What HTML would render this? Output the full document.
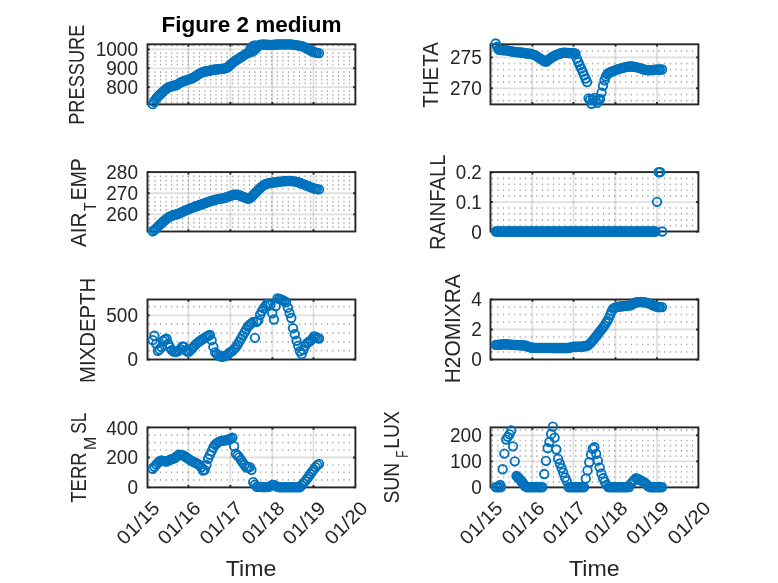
<!DOCTYPE html>
<html><head><meta charset="utf-8"><title>Figure 2 medium</title><style>
html,body{margin:0;padding:0;background:#fff;}
body{width:778px;height:583px;overflow:hidden;}
svg{display:block;will-change:transform;}
.mg{stroke:#a4a4a4;stroke-width:1.7;stroke-dasharray:1.15 4.41;}
.gr{stroke:#262626;stroke-opacity:0.14;stroke-width:1.8;}
.bx{fill:none;stroke:#262626;stroke-width:1.9;}
.tk{fill:none;stroke:#262626;stroke-width:1.9;}
.mk circle{fill:none;stroke:#0072BD;stroke-width:1.85;}
text{font-family:'Liberation Sans', Arial, sans-serif;fill:#262626;}
.tl{font-size:19.4px;text-anchor:end;}
.yl{font-size:20.4px;text-anchor:middle;}
.xl{font-size:21.6px;text-anchor:middle;}
.xt{font-size:19.4px;text-anchor:end;}
.ti{font-size:21.6px;font-weight:bold;text-anchor:middle;fill:#000;}
</style></head><body>
<svg width="778" height="583" viewBox="0 0 778 583">
<rect width="778" height="583" fill="#fff"/>
<line x1="148.8" y1="102.32" x2="355.4" y2="102.32" class="mg"/>
<line x1="148.8" y1="98.54" x2="355.4" y2="98.54" class="mg"/>
<line x1="148.8" y1="94.76" x2="355.4" y2="94.76" class="mg"/>
<line x1="148.8" y1="90.98" x2="355.4" y2="90.98" class="mg"/>
<line x1="148.8" y1="83.42" x2="355.4" y2="83.42" class="mg"/>
<line x1="148.8" y1="79.64" x2="355.4" y2="79.64" class="mg"/>
<line x1="148.8" y1="75.86" x2="355.4" y2="75.86" class="mg"/>
<line x1="148.8" y1="72.08" x2="355.4" y2="72.08" class="mg"/>
<line x1="148.8" y1="64.52" x2="355.4" y2="64.52" class="mg"/>
<line x1="148.8" y1="60.74" x2="355.4" y2="60.74" class="mg"/>
<line x1="148.8" y1="56.96" x2="355.4" y2="56.96" class="mg"/>
<line x1="148.8" y1="53.18" x2="355.4" y2="53.18" class="mg"/>
<line x1="148.8" y1="45.62" x2="355.4" y2="45.62" class="mg"/>
<line x1="147.5" y1="87.2" x2="355.4" y2="87.2" class="gr"/>
<line x1="147.5" y1="68.3" x2="355.4" y2="68.3" class="gr"/>
<line x1="147.5" y1="49.4" x2="355.4" y2="49.4" class="gr"/>
<line x1="188.4" y1="44.3" x2="188.4" y2="104.4" class="gr"/>
<line x1="230.4" y1="44.3" x2="230.4" y2="104.4" class="gr"/>
<line x1="272.4" y1="44.3" x2="272.4" y2="104.4" class="gr"/>
<line x1="313.5" y1="44.3" x2="313.5" y2="104.4" class="gr"/>
<rect x="147.5" y="44.3" width="207.9" height="60.1" class="bx"/>
<path d="M147.5 87.2h2.3M355.4 87.2h-2.3M147.5 68.3h2.3M355.4 68.3h-2.3M147.5 49.4h2.3M355.4 49.4h-2.3M188.4 104.4v-2.3M188.4 44.3v2.3M230.4 104.4v-2.3M230.4 44.3v2.3M272.4 104.4v-2.3M272.4 44.3v2.3M313.5 104.4v-2.3M313.5 44.3v2.3" class="tk"/>
<g class="mk"><circle cx="152.7" cy="104.17" r="4.25"/><circle cx="154.15" cy="101.74" r="4.25"/><circle cx="155.6" cy="99.31" r="4.25"/><circle cx="157.05" cy="97.47" r="4.25"/><circle cx="158.5" cy="96.06" r="4.25"/><circle cx="159.95" cy="94.64" r="4.25"/><circle cx="161.4" cy="93.23" r="4.25"/><circle cx="162.85" cy="91.81" r="4.25"/><circle cx="164.3" cy="90.4" r="4.25"/><circle cx="165.75" cy="89.29" r="4.25"/><circle cx="167.2" cy="88.23" r="4.25"/><circle cx="168.65" cy="87.18" r="4.25"/><circle cx="170.1" cy="86.73" r="4.25"/><circle cx="171.55" cy="86.27" r="4.25"/><circle cx="173" cy="85.83" r="4.25"/><circle cx="174.45" cy="85.47" r="4.25"/><circle cx="175.9" cy="85.12" r="4.25"/><circle cx="177.35" cy="84.54" r="4.25"/><circle cx="178.8" cy="83.58" r="4.25"/><circle cx="180.25" cy="82.63" r="4.25"/><circle cx="181.7" cy="81.91" r="4.25"/><circle cx="183.15" cy="81.38" r="4.25"/><circle cx="184.6" cy="80.85" r="4.25"/><circle cx="186.05" cy="80.35" r="4.25"/><circle cx="187.5" cy="79.87" r="4.25"/><circle cx="188.95" cy="79.38" r="4.25"/><circle cx="190.4" cy="78.83" r="4.25"/><circle cx="191.85" cy="78.27" r="4.25"/><circle cx="193.3" cy="77.7" r="4.25"/><circle cx="194.75" cy="76.75" r="4.25"/><circle cx="196.2" cy="75.79" r="4.25"/><circle cx="197.65" cy="74.85" r="4.25"/><circle cx="199.1" cy="73.96" r="4.25"/><circle cx="200.55" cy="73.08" r="4.25"/><circle cx="202" cy="72.36" r="4.25"/><circle cx="203.45" cy="71.94" r="4.25"/><circle cx="204.9" cy="71.53" r="4.25"/><circle cx="206.35" cy="71.27" r="4.25"/><circle cx="207.8" cy="71.02" r="4.25"/><circle cx="209.25" cy="70.76" r="4.25"/><circle cx="210.7" cy="70.37" r="4.25"/><circle cx="212.15" cy="69.98" r="4.25"/><circle cx="213.6" cy="69.66" r="4.25"/><circle cx="215.05" cy="69.52" r="4.25"/><circle cx="216.5" cy="69.38" r="4.25"/><circle cx="217.95" cy="69.24" r="4.25"/><circle cx="219.4" cy="69.1" r="4.25"/><circle cx="220.85" cy="68.96" r="4.25"/><circle cx="222.3" cy="68.78" r="4.25"/><circle cx="223.75" cy="68.57" r="4.25"/><circle cx="225.2" cy="68.36" r="4.25"/><circle cx="226.65" cy="67.93" r="4.25"/><circle cx="228.1" cy="67.06" r="4.25"/><circle cx="229.55" cy="65.47" r="4.25"/><circle cx="231" cy="64.22" r="4.25"/><circle cx="232.45" cy="63.02" r="4.25"/><circle cx="233.9" cy="61.83" r="4.25"/><circle cx="235.35" cy="60.81" r="4.25"/><circle cx="236.8" cy="59.78" r="4.25"/><circle cx="238.25" cy="58.8" r="4.25"/><circle cx="239.7" cy="57.95" r="4.25"/><circle cx="241.15" cy="57.1" r="4.25"/><circle cx="242.6" cy="56.19" r="4.25"/><circle cx="244.05" cy="55.19" r="4.25"/><circle cx="245.5" cy="54.19" r="4.25"/><circle cx="246.95" cy="53.41" r="4.25"/><circle cx="248.4" cy="52.84" r="4.25"/><circle cx="249.85" cy="52.29" r="4.25"/><circle cx="251.3" cy="51.75" r="4.25"/><circle cx="252.75" cy="51.18" r="4.25"/><circle cx="254.2" cy="50.45" r="4.25"/><circle cx="255.65" cy="48.93" r="4.25"/><circle cx="257.1" cy="47.21" r="4.25"/><circle cx="258.55" cy="45.48" r="4.25"/><circle cx="260" cy="45.03" r="4.25"/><circle cx="261.45" cy="44.74" r="4.25"/><circle cx="262.9" cy="44.51" r="4.25"/><circle cx="264.35" cy="44.55" r="4.25"/><circle cx="265.8" cy="44.59" r="4.25"/><circle cx="267.25" cy="44.71" r="4.25"/><circle cx="268.7" cy="44.85" r="4.25"/><circle cx="270.15" cy="44.99" r="4.25"/><circle cx="271.88" cy="44.84" r="4.25"/><circle cx="273.61" cy="44.67" r="4.25"/><circle cx="275.34" cy="44.55" r="4.25"/><circle cx="277.07" cy="44.47" r="4.25"/><circle cx="278.8" cy="44.39" r="4.25"/><circle cx="280.53" cy="44.35" r="4.25"/><circle cx="282.26" cy="44.31" r="4.25"/><circle cx="283.99" cy="44.3" r="4.25"/><circle cx="285.72" cy="44.3" r="4.25"/><circle cx="287.45" cy="44.3" r="4.25"/><circle cx="289.18" cy="44.3" r="4.25"/><circle cx="290.91" cy="44.32" r="4.25"/><circle cx="292.64" cy="44.57" r="4.25"/><circle cx="294.37" cy="44.82" r="4.25"/><circle cx="296.1" cy="45.1" r="4.25"/><circle cx="297.83" cy="45.4" r="4.25"/><circle cx="299.56" cy="45.72" r="4.25"/><circle cx="301.29" cy="46.09" r="4.25"/><circle cx="303.02" cy="46.46" r="4.25"/><circle cx="304.75" cy="47.33" r="4.25"/><circle cx="306.48" cy="48.26" r="4.25"/><circle cx="308.21" cy="49.21" r="4.25"/><circle cx="309.94" cy="50.18" r="4.25"/><circle cx="311.67" cy="51.1" r="4.25"/><circle cx="313.4" cy="51.78" r="4.25"/><circle cx="315.13" cy="52.45" r="4.25"/><circle cx="316.86" cy="52.8" r="4.25"/><circle cx="319.02" cy="53.11" r="4.25"/><circle cx="250.4" cy="48.6" r="4.25"/><circle cx="251.9" cy="46.8" r="4.25"/><circle cx="253.4" cy="45.8" r="4.25"/><circle cx="255" cy="45.3" r="4.25"/></g>
<text x="138" y="94.1" class="tl" textLength="31.74" lengthAdjust="spacingAndGlyphs">800</text>
<text x="138" y="75.2" class="tl" textLength="31.74" lengthAdjust="spacingAndGlyphs">900</text>
<text x="138" y="56.3" class="tl" textLength="42.32" lengthAdjust="spacingAndGlyphs">1000</text>
<line x1="148.8" y1="227.09" x2="355.4" y2="227.09" class="mg"/>
<line x1="148.8" y1="222.86" x2="355.4" y2="222.86" class="mg"/>
<line x1="148.8" y1="218.63" x2="355.4" y2="218.63" class="mg"/>
<line x1="148.8" y1="210.17" x2="355.4" y2="210.17" class="mg"/>
<line x1="148.8" y1="205.94" x2="355.4" y2="205.94" class="mg"/>
<line x1="148.8" y1="201.71" x2="355.4" y2="201.71" class="mg"/>
<line x1="148.8" y1="197.48" x2="355.4" y2="197.48" class="mg"/>
<line x1="148.8" y1="189.02" x2="355.4" y2="189.02" class="mg"/>
<line x1="148.8" y1="184.79" x2="355.4" y2="184.79" class="mg"/>
<line x1="148.8" y1="180.56" x2="355.4" y2="180.56" class="mg"/>
<line x1="148.8" y1="176.33" x2="355.4" y2="176.33" class="mg"/>
<line x1="147.5" y1="214.4" x2="355.4" y2="214.4" class="gr"/>
<line x1="147.5" y1="193.25" x2="355.4" y2="193.25" class="gr"/>
<line x1="188.4" y1="172.1" x2="188.4" y2="231.5" class="gr"/>
<line x1="230.4" y1="172.1" x2="230.4" y2="231.5" class="gr"/>
<line x1="272.4" y1="172.1" x2="272.4" y2="231.5" class="gr"/>
<line x1="313.5" y1="172.1" x2="313.5" y2="231.5" class="gr"/>
<rect x="147.5" y="172.1" width="207.9" height="59.4" class="bx"/>
<path d="M147.5 214.4h2.3M355.4 214.4h-2.3M147.5 193.25h2.3M355.4 193.25h-2.3M147.5 172.1h2.3M355.4 172.1h-2.3M188.4 231.5v-2.3M188.4 172.1v2.3M230.4 231.5v-2.3M230.4 172.1v2.3M272.4 231.5v-2.3M272.4 172.1v2.3M313.5 231.5v-2.3M313.5 172.1v2.3" class="tk"/>
<g class="mk"><circle cx="152.7" cy="231.43" r="4.25"/><circle cx="154.15" cy="230.18" r="4.25"/><circle cx="155.6" cy="228.92" r="4.25"/><circle cx="157.05" cy="227.55" r="4.25"/><circle cx="158.5" cy="226.1" r="4.25"/><circle cx="159.95" cy="224.65" r="4.25"/><circle cx="161.4" cy="223.31" r="4.25"/><circle cx="162.85" cy="222" r="4.25"/><circle cx="164.3" cy="220.68" r="4.25"/><circle cx="165.75" cy="219.5" r="4.25"/><circle cx="167.2" cy="218.33" r="4.25"/><circle cx="168.65" cy="217.18" r="4.25"/><circle cx="170.1" cy="216.51" r="4.25"/><circle cx="171.55" cy="215.83" r="4.25"/><circle cx="173" cy="215.23" r="4.25"/><circle cx="174.45" cy="214.87" r="4.25"/><circle cx="175.9" cy="214.52" r="4.25"/><circle cx="177.35" cy="214.07" r="4.25"/><circle cx="178.8" cy="213.47" r="4.25"/><circle cx="180.25" cy="212.87" r="4.25"/><circle cx="181.7" cy="212.21" r="4.25"/><circle cx="183.15" cy="211.5" r="4.25"/><circle cx="184.6" cy="210.8" r="4.25"/><circle cx="186.05" cy="210.18" r="4.25"/><circle cx="187.5" cy="209.59" r="4.25"/><circle cx="188.95" cy="209" r="4.25"/><circle cx="190.4" cy="208.43" r="4.25"/><circle cx="191.85" cy="207.87" r="4.25"/><circle cx="193.3" cy="207.3" r="4.25"/><circle cx="194.75" cy="206.77" r="4.25"/><circle cx="196.2" cy="206.24" r="4.25"/><circle cx="197.65" cy="205.72" r="4.25"/><circle cx="199.1" cy="205.22" r="4.25"/><circle cx="200.55" cy="204.73" r="4.25"/><circle cx="202" cy="204.22" r="4.25"/><circle cx="203.45" cy="203.68" r="4.25"/><circle cx="204.9" cy="203.14" r="4.25"/><circle cx="206.35" cy="202.61" r="4.25"/><circle cx="207.8" cy="202.08" r="4.25"/><circle cx="209.25" cy="201.56" r="4.25"/><circle cx="210.7" cy="201.13" r="4.25"/><circle cx="212.15" cy="200.71" r="4.25"/><circle cx="213.6" cy="200.28" r="4.25"/><circle cx="215.05" cy="199.86" r="4.25"/><circle cx="216.5" cy="199.43" r="4.25"/><circle cx="217.95" cy="199.09" r="4.25"/><circle cx="219.4" cy="198.85" r="4.25"/><circle cx="220.85" cy="198.61" r="4.25"/><circle cx="222.3" cy="198.34" r="4.25"/><circle cx="223.75" cy="198.06" r="4.25"/><circle cx="225.2" cy="197.78" r="4.25"/><circle cx="226.65" cy="197.27" r="4.25"/><circle cx="228.1" cy="196.66" r="4.25"/><circle cx="229.55" cy="196.06" r="4.25"/><circle cx="231" cy="195.56" r="4.25"/><circle cx="232.45" cy="195.06" r="4.25"/><circle cx="233.9" cy="194.6" r="4.25"/><circle cx="235.35" cy="194.64" r="4.25"/><circle cx="236.8" cy="194.67" r="4.25"/><circle cx="238.25" cy="194.84" r="4.25"/><circle cx="239.7" cy="195.4" r="4.25"/><circle cx="241.15" cy="195.97" r="4.25"/><circle cx="242.6" cy="196.56" r="4.25"/><circle cx="244.05" cy="197.18" r="4.25"/><circle cx="245.5" cy="197.8" r="4.25"/><circle cx="246.95" cy="198.35" r="4.25"/><circle cx="248.4" cy="198.83" r="4.25"/><circle cx="249.85" cy="198.1" r="4.25"/><circle cx="251.3" cy="197.09" r="4.25"/><circle cx="252.75" cy="195.55" r="4.25"/><circle cx="254.2" cy="194.01" r="4.25"/><circle cx="255.65" cy="192.55" r="4.25"/><circle cx="257.1" cy="191.1" r="4.25"/><circle cx="258.55" cy="189.65" r="4.25"/><circle cx="260" cy="188.28" r="4.25"/><circle cx="261.45" cy="186.91" r="4.25"/><circle cx="262.9" cy="185.74" r="4.25"/><circle cx="264.35" cy="184.86" r="4.25"/><circle cx="265.8" cy="183.98" r="4.25"/><circle cx="267.25" cy="183.55" r="4.25"/><circle cx="268.7" cy="183.23" r="4.25"/><circle cx="270.15" cy="182.91" r="4.25"/><circle cx="271.88" cy="182.7" r="4.25"/><circle cx="273.61" cy="182.48" r="4.25"/><circle cx="275.34" cy="182.25" r="4.25"/><circle cx="277.07" cy="182" r="4.25"/><circle cx="278.8" cy="181.76" r="4.25"/><circle cx="280.53" cy="181.55" r="4.25"/><circle cx="282.26" cy="181.34" r="4.25"/><circle cx="283.99" cy="181.2" r="4.25"/><circle cx="285.72" cy="181.07" r="4.25"/><circle cx="287.45" cy="181" r="4.25"/><circle cx="289.18" cy="181" r="4.25"/><circle cx="290.91" cy="181.01" r="4.25"/><circle cx="292.64" cy="181.18" r="4.25"/><circle cx="294.37" cy="181.35" r="4.25"/><circle cx="296.1" cy="181.72" r="4.25"/><circle cx="297.83" cy="182.19" r="4.25"/><circle cx="299.56" cy="182.73" r="4.25"/><circle cx="301.29" cy="183.43" r="4.25"/><circle cx="303.02" cy="184.13" r="4.25"/><circle cx="304.75" cy="184.8" r="4.25"/><circle cx="306.48" cy="185.48" r="4.25"/><circle cx="308.21" cy="186.18" r="4.25"/><circle cx="309.94" cy="186.89" r="4.25"/><circle cx="311.67" cy="187.59" r="4.25"/><circle cx="313.4" cy="188.18" r="4.25"/><circle cx="315.13" cy="188.77" r="4.25"/><circle cx="316.86" cy="189.1" r="4.25"/><circle cx="319.02" cy="189.41" r="4.25"/></g>
<text x="138" y="221.3" class="tl" textLength="31.74" lengthAdjust="spacingAndGlyphs">260</text>
<text x="138" y="200.15" class="tl" textLength="31.74" lengthAdjust="spacingAndGlyphs">270</text>
<text x="138" y="179" class="tl" textLength="31.74" lengthAdjust="spacingAndGlyphs">280</text>
<line x1="148.8" y1="350.68" x2="355.4" y2="350.68" class="mg"/>
<line x1="148.8" y1="341.86" x2="355.4" y2="341.86" class="mg"/>
<line x1="148.8" y1="333.04" x2="355.4" y2="333.04" class="mg"/>
<line x1="148.8" y1="324.22" x2="355.4" y2="324.22" class="mg"/>
<line x1="148.8" y1="306.58" x2="355.4" y2="306.58" class="mg"/>
<line x1="147.5" y1="315.4" x2="355.4" y2="315.4" class="gr"/>
<line x1="188.4" y1="299.5" x2="188.4" y2="359.5" class="gr"/>
<line x1="230.4" y1="299.5" x2="230.4" y2="359.5" class="gr"/>
<line x1="272.4" y1="299.5" x2="272.4" y2="359.5" class="gr"/>
<line x1="313.5" y1="299.5" x2="313.5" y2="359.5" class="gr"/>
<rect x="147.5" y="299.5" width="207.9" height="60" class="bx"/>
<path d="M147.5 359.5h2.3M355.4 359.5h-2.3M147.5 315.4h2.3M355.4 315.4h-2.3M188.4 359.5v-2.3M188.4 299.5v2.3M230.4 359.5v-2.3M230.4 299.5v2.3M272.4 359.5v-2.3M272.4 299.5v2.3M313.5 359.5v-2.3M313.5 299.5v2.3" class="tk"/>
<g class="mk"><circle cx="152.7" cy="340.14" r="4.25"/><circle cx="154.43" cy="335.76" r="4.25"/><circle cx="156.16" cy="343.87" r="4.25"/><circle cx="157.9" cy="350.72" r="4.25"/><circle cx="159.63" cy="349.46" r="4.25"/><circle cx="161.36" cy="347.06" r="4.25"/><circle cx="163.09" cy="341.03" r="4.25"/><circle cx="164.82" cy="339.49" r="4.25"/><circle cx="166.56" cy="338.72" r="4.25"/><circle cx="168.29" cy="343.77" r="4.25"/><circle cx="170.02" cy="347.44" r="4.25"/><circle cx="171.75" cy="350.14" r="4.25"/><circle cx="173.49" cy="351.69" r="4.25"/><circle cx="175.22" cy="351.7" r="4.25"/><circle cx="176.95" cy="351.7" r="4.25"/><circle cx="178.69" cy="350.58" r="4.25"/><circle cx="180.42" cy="349.07" r="4.25"/><circle cx="182.15" cy="346.68" r="4.25"/><circle cx="183.88" cy="346.78" r="4.25"/><circle cx="185.62" cy="350.46" r="4.25"/><circle cx="187.35" cy="351.71" r="4.25"/><circle cx="189.08" cy="351.62" r="4.25"/><circle cx="190.81" cy="349.89" r="4.25"/><circle cx="192.55" cy="348.03" r="4.25"/><circle cx="194.28" cy="345.96" r="4.25"/><circle cx="196.01" cy="344.09" r="4.25"/><circle cx="197.74" cy="342.69" r="4.25"/><circle cx="199.47" cy="341.35" r="4.25"/><circle cx="201.21" cy="340.17" r="4.25"/><circle cx="202.94" cy="339.01" r="4.25"/><circle cx="204.67" cy="337.87" r="4.25"/><circle cx="206.41" cy="336.77" r="4.25"/><circle cx="208.14" cy="335.76" r="4.25"/><circle cx="209.87" cy="335.01" r="4.25"/><circle cx="211.6" cy="340.21" r="4.25"/><circle cx="213.33" cy="346.81" r="4.25"/><circle cx="215.07" cy="352.3" r="4.25"/><circle cx="216.8" cy="354.04" r="4.25"/><circle cx="218.53" cy="355.48" r="4.25"/><circle cx="220.26" cy="356.2" r="4.25"/><circle cx="222" cy="356.74" r="4.25"/><circle cx="223.73" cy="356.42" r="4.25"/><circle cx="225.46" cy="356.1" r="4.25"/><circle cx="227.19" cy="354.85" r="4.25"/><circle cx="228.93" cy="353.18" r="4.25"/><circle cx="230.66" cy="352.01" r="4.25"/><circle cx="232.39" cy="350.84" r="4.25"/><circle cx="234.12" cy="349.2" r="4.25"/><circle cx="235.86" cy="347.13" r="4.25"/><circle cx="237.59" cy="344.61" r="4.25"/><circle cx="239.32" cy="341.56" r="4.25"/><circle cx="241.06" cy="338.56" r="4.25"/><circle cx="242.79" cy="335.57" r="4.25"/><circle cx="244.52" cy="332.52" r="4.25"/><circle cx="246.25" cy="329.5" r="4.25"/><circle cx="247.99" cy="326.52" r="4.25"/><circle cx="249.72" cy="324.76" r="4.25"/><circle cx="251.45" cy="323.39" r="4.25"/><circle cx="253.18" cy="322.01" r="4.25"/><circle cx="254.91" cy="337.86" r="4.25"/><circle cx="256.65" cy="321.96" r="4.25"/><circle cx="258.38" cy="320.32" r="4.25"/><circle cx="260.11" cy="314.77" r="4.25"/><circle cx="261.85" cy="311.21" r="4.25"/><circle cx="263.58" cy="308.44" r="4.25"/><circle cx="265.31" cy="306.11" r="4.25"/><circle cx="267.04" cy="303.98" r="4.25"/><circle cx="268.77" cy="303.99" r="4.25"/><circle cx="270.51" cy="305.04" r="4.25"/><circle cx="272.24" cy="313.34" r="4.25"/><circle cx="273.97" cy="319.5" r="4.25"/><circle cx="275.7" cy="305.98" r="4.25"/><circle cx="277.44" cy="298.41" r="4.25"/><circle cx="279.17" cy="298.96" r="4.25"/><circle cx="280.9" cy="299.51" r="4.25"/><circle cx="282.63" cy="300.22" r="4.25"/><circle cx="284.37" cy="301.08" r="4.25"/><circle cx="286.1" cy="302.22" r="4.25"/><circle cx="287.83" cy="307.7" r="4.25"/><circle cx="289.56" cy="313.09" r="4.25"/><circle cx="291.3" cy="317.99" r="4.25"/><circle cx="293.03" cy="328.2" r="4.25"/><circle cx="294.76" cy="334.27" r="4.25"/><circle cx="296.5" cy="340.78" r="4.25"/><circle cx="298.23" cy="345.79" r="4.25"/><circle cx="299.96" cy="351.27" r="4.25"/><circle cx="301.69" cy="354.19" r="4.25"/><circle cx="303.42" cy="349.94" r="4.25"/><circle cx="305.16" cy="346.09" r="4.25"/><circle cx="306.89" cy="343.38" r="4.25"/><circle cx="308.62" cy="341.97" r="4.25"/><circle cx="310.36" cy="340.85" r="4.25"/><circle cx="312.09" cy="339.2" r="4.25"/><circle cx="313.82" cy="336.54" r="4.25"/><circle cx="315.55" cy="336.78" r="4.25"/><circle cx="317.28" cy="338.05" r="4.25"/><circle cx="319.02" cy="338.48" r="4.25"/></g>
<text x="138" y="366.4" class="tl" textLength="10.58" lengthAdjust="spacingAndGlyphs">0</text>
<text x="138" y="322.3" class="tl" textLength="31.74" lengthAdjust="spacingAndGlyphs">500</text>
<line x1="148.8" y1="479.92" x2="355.4" y2="479.92" class="mg"/>
<line x1="148.8" y1="472.45" x2="355.4" y2="472.45" class="mg"/>
<line x1="148.8" y1="464.98" x2="355.4" y2="464.98" class="mg"/>
<line x1="148.8" y1="450.02" x2="355.4" y2="450.02" class="mg"/>
<line x1="148.8" y1="442.55" x2="355.4" y2="442.55" class="mg"/>
<line x1="148.8" y1="435.08" x2="355.4" y2="435.08" class="mg"/>
<line x1="147.5" y1="457.5" x2="355.4" y2="457.5" class="gr"/>
<line x1="188.4" y1="427.4" x2="188.4" y2="487.4" class="gr"/>
<line x1="230.4" y1="427.4" x2="230.4" y2="487.4" class="gr"/>
<line x1="272.4" y1="427.4" x2="272.4" y2="487.4" class="gr"/>
<line x1="313.5" y1="427.4" x2="313.5" y2="487.4" class="gr"/>
<rect x="147.5" y="427.4" width="207.9" height="60" class="bx"/>
<path d="M147.5 487.4h2.3M355.4 487.4h-2.3M147.5 457.5h2.3M355.4 457.5h-2.3M147.5 427.6h2.3M355.4 427.6h-2.3M188.4 487.4v-2.3M188.4 427.4v2.3M230.4 487.4v-2.3M230.4 427.4v2.3M272.4 487.4v-2.3M272.4 427.4v2.3M313.5 487.4v-2.3M313.5 427.4v2.3" class="tk"/>
<g class="mk"><circle cx="152.7" cy="468.79" r="4.25"/><circle cx="154.43" cy="466.73" r="4.25"/><circle cx="156.16" cy="464.66" r="4.25"/><circle cx="157.9" cy="462.94" r="4.25"/><circle cx="159.63" cy="461.25" r="4.25"/><circle cx="161.36" cy="460.49" r="4.25"/><circle cx="163.09" cy="460.92" r="4.25"/><circle cx="164.82" cy="461.36" r="4.25"/><circle cx="166.56" cy="461.52" r="4.25"/><circle cx="168.29" cy="460.66" r="4.25"/><circle cx="170.02" cy="459.79" r="4.25"/><circle cx="171.75" cy="459.16" r="4.25"/><circle cx="173.49" cy="458.59" r="4.25"/><circle cx="175.22" cy="457.75" r="4.25"/><circle cx="176.95" cy="456.27" r="4.25"/><circle cx="178.69" cy="454.78" r="4.25"/><circle cx="180.42" cy="454.85" r="4.25"/><circle cx="182.15" cy="455.13" r="4.25"/><circle cx="183.88" cy="455.77" r="4.25"/><circle cx="185.62" cy="456.97" r="4.25"/><circle cx="187.35" cy="458.16" r="4.25"/><circle cx="189.08" cy="459.29" r="4.25"/><circle cx="190.81" cy="460.42" r="4.25"/><circle cx="192.55" cy="461.42" r="4.25"/><circle cx="194.28" cy="462.29" r="4.25"/><circle cx="196.01" cy="463.16" r="4.25"/><circle cx="197.74" cy="464.02" r="4.25"/><circle cx="199.47" cy="464.89" r="4.25"/><circle cx="201.21" cy="467.28" r="4.25"/><circle cx="202.94" cy="470.55" r="4.25"/><circle cx="204.67" cy="469.82" r="4.25"/><circle cx="206.41" cy="465.03" r="4.25"/><circle cx="208.14" cy="458.77" r="4.25"/><circle cx="209.87" cy="454.86" r="4.25"/><circle cx="211.6" cy="451.35" r="4.25"/><circle cx="213.33" cy="447.49" r="4.25"/><circle cx="215.07" cy="444.87" r="4.25"/><circle cx="216.8" cy="443.27" r="4.25"/><circle cx="218.53" cy="442.11" r="4.25"/><circle cx="220.26" cy="441.14" r="4.25"/><circle cx="222" cy="440.86" r="4.25"/><circle cx="223.73" cy="440.58" r="4.25"/><circle cx="225.46" cy="440.29" r="4.25"/><circle cx="227.19" cy="440" r="4.25"/><circle cx="228.93" cy="439.52" r="4.25"/><circle cx="230.66" cy="438.61" r="4.25"/><circle cx="232.39" cy="437.7" r="4.25"/><circle cx="234.12" cy="446.31" r="4.25"/><circle cx="235.86" cy="453.72" r="4.25"/><circle cx="237.59" cy="455.48" r="4.25"/><circle cx="239.32" cy="457.3" r="4.25"/><circle cx="241.06" cy="460" r="4.25"/><circle cx="242.79" cy="462.65" r="4.25"/><circle cx="244.52" cy="465.01" r="4.25"/><circle cx="246.25" cy="467.36" r="4.25"/><circle cx="247.99" cy="467.7" r="4.25"/><circle cx="249.72" cy="467.13" r="4.25"/><circle cx="251.45" cy="469.87" r="4.25"/><circle cx="253.18" cy="482.08" r="4.25"/><circle cx="254.91" cy="484.74" r="4.25"/><circle cx="256.65" cy="486.81" r="4.25"/><circle cx="258.38" cy="486.87" r="4.25"/><circle cx="260.11" cy="486.93" r="4.25"/><circle cx="261.85" cy="486.99" r="4.25"/><circle cx="263.58" cy="487.05" r="4.25"/><circle cx="265.31" cy="487.11" r="4.25"/><circle cx="267.04" cy="487.17" r="4.25"/><circle cx="268.77" cy="486.81" r="4.25"/><circle cx="270.51" cy="485.92" r="4.25"/><circle cx="272.24" cy="485.04" r="4.25"/><circle cx="273.97" cy="484.89" r="4.25"/><circle cx="275.7" cy="485.88" r="4.25"/><circle cx="277.44" cy="486.88" r="4.25"/><circle cx="279.17" cy="487.2" r="4.25"/><circle cx="280.9" cy="487.2" r="4.25"/><circle cx="282.63" cy="487.2" r="4.25"/><circle cx="284.37" cy="487.2" r="4.25"/><circle cx="286.1" cy="487.2" r="4.25"/><circle cx="287.83" cy="487.2" r="4.25"/><circle cx="289.56" cy="487.2" r="4.25"/><circle cx="291.3" cy="487.2" r="4.25"/><circle cx="293.03" cy="487.2" r="4.25"/><circle cx="294.76" cy="487.2" r="4.25"/><circle cx="296.5" cy="487.2" r="4.25"/><circle cx="298.23" cy="487.2" r="4.25"/><circle cx="299.96" cy="487.2" r="4.25"/><circle cx="301.69" cy="485.28" r="4.25"/><circle cx="303.42" cy="483.31" r="4.25"/><circle cx="305.16" cy="481.19" r="4.25"/><circle cx="306.89" cy="478.88" r="4.25"/><circle cx="308.62" cy="476.57" r="4.25"/><circle cx="310.36" cy="474" r="4.25"/><circle cx="312.09" cy="471.57" r="4.25"/><circle cx="313.82" cy="469.4" r="4.25"/><circle cx="315.55" cy="467.19" r="4.25"/><circle cx="317.28" cy="465.08" r="4.25"/><circle cx="319.02" cy="463.92" r="4.25"/></g>
<text x="138" y="494.3" class="tl" textLength="10.58" lengthAdjust="spacingAndGlyphs">0</text>
<text x="138" y="464.4" class="tl" textLength="31.74" lengthAdjust="spacingAndGlyphs">200</text>
<text x="138" y="434.5" class="tl" textLength="31.74" lengthAdjust="spacingAndGlyphs">400</text>
<line x1="491.8" y1="100.66" x2="698.4" y2="100.66" class="mg"/>
<line x1="491.8" y1="94.48" x2="698.4" y2="94.48" class="mg"/>
<line x1="491.8" y1="82.12" x2="698.4" y2="82.12" class="mg"/>
<line x1="491.8" y1="75.94" x2="698.4" y2="75.94" class="mg"/>
<line x1="491.8" y1="69.76" x2="698.4" y2="69.76" class="mg"/>
<line x1="491.8" y1="63.58" x2="698.4" y2="63.58" class="mg"/>
<line x1="491.8" y1="51.22" x2="698.4" y2="51.22" class="mg"/>
<line x1="490.5" y1="88.3" x2="698.4" y2="88.3" class="gr"/>
<line x1="490.5" y1="57.4" x2="698.4" y2="57.4" class="gr"/>
<line x1="532.4" y1="44.3" x2="532.4" y2="104.4" class="gr"/>
<line x1="573.5" y1="44.3" x2="573.5" y2="104.4" class="gr"/>
<line x1="615.5" y1="44.3" x2="615.5" y2="104.4" class="gr"/>
<line x1="657" y1="44.3" x2="657" y2="104.4" class="gr"/>
<rect x="490.5" y="44.3" width="207.9" height="60.1" class="bx"/>
<path d="M490.5 88.3h2.3M698.4 88.3h-2.3M490.5 57.4h2.3M698.4 57.4h-2.3M532.4 104.4v-2.3M532.4 44.3v2.3M573.5 104.4v-2.3M573.5 44.3v2.3M615.5 104.4v-2.3M615.5 44.3v2.3M657 104.4v-2.3M657 44.3v2.3" class="tk"/>
<g class="mk"><circle cx="495.7" cy="43.5" r="4.25"/><circle cx="497.15" cy="46.79" r="4.25"/><circle cx="498.6" cy="49.53" r="4.25"/><circle cx="500.05" cy="49.79" r="4.25"/><circle cx="501.5" cy="50.05" r="4.25"/><circle cx="502.95" cy="50.2" r="4.25"/><circle cx="504.4" cy="50.2" r="4.25"/><circle cx="505.85" cy="50.2" r="4.25"/><circle cx="507.3" cy="50.41" r="4.25"/><circle cx="508.75" cy="50.8" r="4.25"/><circle cx="510.2" cy="51.19" r="4.25"/><circle cx="511.65" cy="51.45" r="4.25"/><circle cx="513.1" cy="51.67" r="4.25"/><circle cx="514.55" cy="51.88" r="4.25"/><circle cx="516" cy="52.03" r="4.25"/><circle cx="517.45" cy="52.17" r="4.25"/><circle cx="518.9" cy="52.31" r="4.25"/><circle cx="520.35" cy="52.45" r="4.25"/><circle cx="521.8" cy="52.59" r="4.25"/><circle cx="523.25" cy="52.77" r="4.25"/><circle cx="524.7" cy="53.05" r="4.25"/><circle cx="526.15" cy="53.33" r="4.25"/><circle cx="527.6" cy="53.54" r="4.25"/><circle cx="529.05" cy="53.65" r="4.25"/><circle cx="530.5" cy="53.75" r="4.25"/><circle cx="531.95" cy="54.06" r="4.25"/><circle cx="533.4" cy="54.55" r="4.25"/><circle cx="534.85" cy="55.05" r="4.25"/><circle cx="536.3" cy="55.88" r="4.25"/><circle cx="537.75" cy="56.87" r="4.25"/><circle cx="539.2" cy="57.86" r="4.25"/><circle cx="540.65" cy="58.79" r="4.25"/><circle cx="542.1" cy="59.71" r="4.25"/><circle cx="543.55" cy="60.63" r="4.25"/><circle cx="545" cy="61.5" r="4.25"/><circle cx="546.45" cy="61.47" r="4.25"/><circle cx="547.9" cy="60.35" r="4.25"/><circle cx="549.35" cy="58.98" r="4.25"/><circle cx="550.8" cy="57.97" r="4.25"/><circle cx="552.25" cy="56.98" r="4.25"/><circle cx="553.7" cy="56.25" r="4.25"/><circle cx="555.15" cy="55.53" r="4.25"/><circle cx="556.6" cy="54.8" r="4.25"/><circle cx="558.05" cy="54.25" r="4.25"/><circle cx="559.5" cy="53.77" r="4.25"/><circle cx="560.95" cy="53.28" r="4.25"/><circle cx="562.4" cy="52.8" r="4.25"/><circle cx="563.85" cy="52.67" r="4.25"/><circle cx="565.3" cy="52.79" r="4.25"/><circle cx="566.75" cy="52.91" r="4.25"/><circle cx="568.2" cy="53.03" r="4.25"/><circle cx="569.65" cy="53.13" r="4.25"/><circle cx="571.1" cy="53.2" r="4.25"/><circle cx="572.55" cy="53.26" r="4.25"/><circle cx="574" cy="53.33" r="4.25"/><circle cx="575.45" cy="53.4" r="4.25"/><circle cx="576.9" cy="58.66" r="4.25"/><circle cx="578.35" cy="62.23" r="4.25"/><circle cx="579.8" cy="65.39" r="4.25"/><circle cx="581.25" cy="68.62" r="4.25"/><circle cx="582.7" cy="71.9" r="4.25"/><circle cx="584.15" cy="75.31" r="4.25"/><circle cx="585.6" cy="78.61" r="4.25"/><circle cx="587.05" cy="82.07" r="4.25"/><circle cx="588.5" cy="98.3" r="4.25"/><circle cx="589.95" cy="99.98" r="4.25"/><circle cx="591.4" cy="103.73" r="4.25"/><circle cx="592.85" cy="99.64" r="4.25"/><circle cx="594.3" cy="97.85" r="4.25"/><circle cx="595.75" cy="100.56" r="4.25"/><circle cx="597.2" cy="102.83" r="4.25"/><circle cx="598.65" cy="99.85" r="4.25"/><circle cx="600.1" cy="99" r="4.25"/><circle cx="601.55" cy="92.57" r="4.25"/><circle cx="603" cy="85.84" r="4.25"/><circle cx="604.45" cy="80.26" r="4.25"/><circle cx="605.9" cy="76.5" r="4.25"/><circle cx="607.35" cy="74.25" r="4.25"/><circle cx="608.8" cy="72.8" r="4.25"/><circle cx="610.25" cy="72.25" r="4.25"/><circle cx="611.7" cy="71.69" r="4.25"/><circle cx="613.15" cy="71.08" r="4.25"/><circle cx="614.88" cy="70.32" r="4.25"/><circle cx="616.61" cy="69.61" r="4.25"/><circle cx="618.34" cy="69.1" r="4.25"/><circle cx="620.07" cy="68.6" r="4.25"/><circle cx="621.8" cy="68.1" r="4.25"/><circle cx="623.53" cy="67.61" r="4.25"/><circle cx="625.26" cy="67.17" r="4.25"/><circle cx="626.99" cy="66.83" r="4.25"/><circle cx="628.72" cy="66.5" r="4.25"/><circle cx="630.45" cy="66.5" r="4.25"/><circle cx="632.18" cy="66.5" r="4.25"/><circle cx="633.91" cy="66.72" r="4.25"/><circle cx="635.64" cy="67.05" r="4.25"/><circle cx="637.37" cy="67.44" r="4.25"/><circle cx="639.1" cy="67.94" r="4.25"/><circle cx="640.83" cy="68.45" r="4.25"/><circle cx="642.56" cy="69.03" r="4.25"/><circle cx="644.29" cy="69.62" r="4.25"/><circle cx="646.02" cy="69.99" r="4.25"/><circle cx="647.75" cy="70.16" r="4.25"/><circle cx="649.48" cy="70.27" r="4.25"/><circle cx="651.21" cy="70.1" r="4.25"/><circle cx="652.94" cy="69.94" r="4.25"/><circle cx="654.67" cy="69.77" r="4.25"/><circle cx="656.4" cy="69.61" r="4.25"/><circle cx="658.13" cy="69.5" r="4.25"/><circle cx="659.86" cy="69.5" r="4.25"/><circle cx="662.02" cy="69.5" r="4.25"/></g>
<text x="481.8" y="95.2" class="tl" textLength="31.74" lengthAdjust="spacingAndGlyphs">270</text>
<text x="481.8" y="64.3" class="tl" textLength="31.74" lengthAdjust="spacingAndGlyphs">275</text>
<line x1="491.8" y1="225.69" x2="698.4" y2="225.69" class="mg"/>
<line x1="491.8" y1="219.79" x2="698.4" y2="219.79" class="mg"/>
<line x1="491.8" y1="213.88" x2="698.4" y2="213.88" class="mg"/>
<line x1="491.8" y1="207.98" x2="698.4" y2="207.98" class="mg"/>
<line x1="491.8" y1="196.17" x2="698.4" y2="196.17" class="mg"/>
<line x1="491.8" y1="190.27" x2="698.4" y2="190.27" class="mg"/>
<line x1="491.8" y1="184.36" x2="698.4" y2="184.36" class="mg"/>
<line x1="491.8" y1="178.46" x2="698.4" y2="178.46" class="mg"/>
<line x1="490.5" y1="202.07" x2="698.4" y2="202.07" class="gr"/>
<line x1="532.4" y1="172.1" x2="532.4" y2="231.5" class="gr"/>
<line x1="573.5" y1="172.1" x2="573.5" y2="231.5" class="gr"/>
<line x1="615.5" y1="172.1" x2="615.5" y2="231.5" class="gr"/>
<line x1="657" y1="172.1" x2="657" y2="231.5" class="gr"/>
<rect x="490.5" y="172.1" width="207.9" height="59.4" class="bx"/>
<path d="M490.5 231.6h2.3M698.4 231.6h-2.3M490.5 202.07h2.3M698.4 202.07h-2.3M490.5 172.55h2.3M698.4 172.55h-2.3M532.4 231.5v-2.3M532.4 172.1v2.3M573.5 231.5v-2.3M573.5 172.1v2.3M615.5 231.5v-2.3M615.5 172.1v2.3M657 231.5v-2.3M657 172.1v2.3" class="tk"/>
<g class="mk"><circle cx="495.7" cy="231.5" r="4.25"/><circle cx="497.15" cy="231.5" r="4.25"/><circle cx="498.6" cy="231.5" r="4.25"/><circle cx="500.06" cy="231.5" r="4.25"/><circle cx="501.51" cy="231.5" r="4.25"/><circle cx="502.97" cy="231.5" r="4.25"/><circle cx="504.42" cy="231.5" r="4.25"/><circle cx="505.87" cy="231.5" r="4.25"/><circle cx="507.33" cy="231.5" r="4.25"/><circle cx="508.78" cy="231.5" r="4.25"/><circle cx="510.23" cy="231.5" r="4.25"/><circle cx="511.69" cy="231.5" r="4.25"/><circle cx="513.14" cy="231.5" r="4.25"/><circle cx="514.6" cy="231.5" r="4.25"/><circle cx="516.05" cy="231.5" r="4.25"/><circle cx="517.5" cy="231.5" r="4.25"/><circle cx="518.96" cy="231.5" r="4.25"/><circle cx="520.41" cy="231.5" r="4.25"/><circle cx="521.86" cy="231.5" r="4.25"/><circle cx="523.32" cy="231.5" r="4.25"/><circle cx="524.77" cy="231.5" r="4.25"/><circle cx="526.22" cy="231.5" r="4.25"/><circle cx="527.68" cy="231.5" r="4.25"/><circle cx="529.13" cy="231.5" r="4.25"/><circle cx="530.59" cy="231.5" r="4.25"/><circle cx="532.04" cy="231.5" r="4.25"/><circle cx="533.49" cy="231.5" r="4.25"/><circle cx="534.95" cy="231.5" r="4.25"/><circle cx="536.4" cy="231.5" r="4.25"/><circle cx="537.85" cy="231.5" r="4.25"/><circle cx="539.31" cy="231.5" r="4.25"/><circle cx="540.76" cy="231.5" r="4.25"/><circle cx="542.21" cy="231.5" r="4.25"/><circle cx="543.67" cy="231.5" r="4.25"/><circle cx="545.12" cy="231.5" r="4.25"/><circle cx="546.58" cy="231.5" r="4.25"/><circle cx="548.03" cy="231.5" r="4.25"/><circle cx="549.48" cy="231.5" r="4.25"/><circle cx="550.94" cy="231.5" r="4.25"/><circle cx="552.39" cy="231.5" r="4.25"/><circle cx="553.84" cy="231.5" r="4.25"/><circle cx="555.3" cy="231.5" r="4.25"/><circle cx="556.75" cy="231.5" r="4.25"/><circle cx="558.2" cy="231.5" r="4.25"/><circle cx="559.66" cy="231.5" r="4.25"/><circle cx="561.11" cy="231.5" r="4.25"/><circle cx="562.57" cy="231.5" r="4.25"/><circle cx="564.02" cy="231.5" r="4.25"/><circle cx="565.47" cy="231.5" r="4.25"/><circle cx="566.93" cy="231.5" r="4.25"/><circle cx="568.38" cy="231.5" r="4.25"/><circle cx="569.83" cy="231.5" r="4.25"/><circle cx="571.29" cy="231.5" r="4.25"/><circle cx="572.74" cy="231.5" r="4.25"/><circle cx="574.2" cy="231.5" r="4.25"/><circle cx="575.65" cy="231.5" r="4.25"/><circle cx="577.1" cy="231.5" r="4.25"/><circle cx="578.56" cy="231.5" r="4.25"/><circle cx="580.01" cy="231.5" r="4.25"/><circle cx="581.46" cy="231.5" r="4.25"/><circle cx="582.92" cy="231.5" r="4.25"/><circle cx="584.37" cy="231.5" r="4.25"/><circle cx="585.82" cy="231.5" r="4.25"/><circle cx="587.28" cy="231.5" r="4.25"/><circle cx="588.73" cy="231.5" r="4.25"/><circle cx="590.19" cy="231.5" r="4.25"/><circle cx="591.64" cy="231.5" r="4.25"/><circle cx="593.09" cy="231.5" r="4.25"/><circle cx="594.55" cy="231.5" r="4.25"/><circle cx="596" cy="231.5" r="4.25"/><circle cx="597.45" cy="231.5" r="4.25"/><circle cx="598.91" cy="231.5" r="4.25"/><circle cx="600.36" cy="231.5" r="4.25"/><circle cx="601.81" cy="231.5" r="4.25"/><circle cx="603.27" cy="231.5" r="4.25"/><circle cx="604.72" cy="231.5" r="4.25"/><circle cx="606.18" cy="231.5" r="4.25"/><circle cx="607.63" cy="231.5" r="4.25"/><circle cx="609.08" cy="231.5" r="4.25"/><circle cx="610.54" cy="231.5" r="4.25"/><circle cx="611.99" cy="231.5" r="4.25"/><circle cx="613.44" cy="231.5" r="4.25"/><circle cx="614.9" cy="231.5" r="4.25"/><circle cx="616.35" cy="231.5" r="4.25"/><circle cx="617.8" cy="231.5" r="4.25"/><circle cx="619.26" cy="231.5" r="4.25"/><circle cx="620.71" cy="231.5" r="4.25"/><circle cx="622.17" cy="231.5" r="4.25"/><circle cx="623.62" cy="231.5" r="4.25"/><circle cx="625.07" cy="231.5" r="4.25"/><circle cx="626.53" cy="231.5" r="4.25"/><circle cx="627.98" cy="231.5" r="4.25"/><circle cx="629.43" cy="231.5" r="4.25"/><circle cx="630.89" cy="231.5" r="4.25"/><circle cx="632.34" cy="231.5" r="4.25"/><circle cx="633.8" cy="231.5" r="4.25"/><circle cx="635.25" cy="231.5" r="4.25"/><circle cx="636.7" cy="231.5" r="4.25"/><circle cx="638.16" cy="231.5" r="4.25"/><circle cx="639.61" cy="231.5" r="4.25"/><circle cx="641.06" cy="231.5" r="4.25"/><circle cx="642.52" cy="231.5" r="4.25"/><circle cx="643.97" cy="231.5" r="4.25"/><circle cx="645.42" cy="231.5" r="4.25"/><circle cx="646.88" cy="231.5" r="4.25"/><circle cx="648.33" cy="231.5" r="4.25"/><circle cx="649.79" cy="231.5" r="4.25"/><circle cx="651.24" cy="231.5" r="4.25"/><circle cx="652.69" cy="231.5" r="4.25"/><circle cx="654.15" cy="231.5" r="4.25"/><circle cx="655.6" cy="231.5" r="4.25"/><circle cx="657" cy="201.8" r="4.25"/><circle cx="658.6" cy="172.2" r="4.25"/><circle cx="660.2" cy="172.2" r="4.25"/><circle cx="662.2" cy="231.5" r="4.25"/></g>
<text x="481.8" y="238.5" class="tl" textLength="10.58" lengthAdjust="spacingAndGlyphs">0</text>
<text x="481.8" y="208.97" class="tl" textLength="26.08" lengthAdjust="spacingAndGlyphs">0.1</text>
<text x="481.8" y="179.45" class="tl" textLength="26.08" lengthAdjust="spacingAndGlyphs">0.2</text>
<line x1="491.8" y1="352" x2="698.4" y2="352" class="mg"/>
<line x1="491.8" y1="344.5" x2="698.4" y2="344.5" class="mg"/>
<line x1="491.8" y1="337" x2="698.4" y2="337" class="mg"/>
<line x1="491.8" y1="322" x2="698.4" y2="322" class="mg"/>
<line x1="491.8" y1="314.5" x2="698.4" y2="314.5" class="mg"/>
<line x1="491.8" y1="307" x2="698.4" y2="307" class="mg"/>
<line x1="490.5" y1="329.5" x2="698.4" y2="329.5" class="gr"/>
<line x1="532.4" y1="299.5" x2="532.4" y2="359.5" class="gr"/>
<line x1="573.5" y1="299.5" x2="573.5" y2="359.5" class="gr"/>
<line x1="615.5" y1="299.5" x2="615.5" y2="359.5" class="gr"/>
<line x1="657" y1="299.5" x2="657" y2="359.5" class="gr"/>
<rect x="490.5" y="299.5" width="207.9" height="60" class="bx"/>
<path d="M490.5 359.5h2.3M698.4 359.5h-2.3M490.5 329.5h2.3M698.4 329.5h-2.3M490.5 299.5h2.3M698.4 299.5h-2.3M532.4 359.5v-2.3M532.4 299.5v2.3M573.5 359.5v-2.3M573.5 299.5v2.3M615.5 359.5v-2.3M615.5 299.5v2.3M657 359.5v-2.3M657 299.5v2.3" class="tk"/>
<g class="mk"><circle cx="495.7" cy="344.9" r="4.25"/><circle cx="497.15" cy="344.81" r="4.25"/><circle cx="498.6" cy="344.7" r="4.25"/><circle cx="500.05" cy="344.6" r="4.25"/><circle cx="501.5" cy="344.48" r="4.25"/><circle cx="502.95" cy="344.36" r="4.25"/><circle cx="504.4" cy="344.25" r="4.25"/><circle cx="505.85" cy="344.27" r="4.25"/><circle cx="507.3" cy="344.38" r="4.25"/><circle cx="508.75" cy="344.5" r="4.25"/><circle cx="510.2" cy="344.62" r="4.25"/><circle cx="511.65" cy="344.73" r="4.25"/><circle cx="513.1" cy="344.85" r="4.25"/><circle cx="514.55" cy="344.96" r="4.25"/><circle cx="516" cy="345.04" r="4.25"/><circle cx="517.45" cy="345.1" r="4.25"/><circle cx="518.9" cy="345.16" r="4.25"/><circle cx="520.35" cy="345.22" r="4.25"/><circle cx="521.8" cy="345.32" r="4.25"/><circle cx="523.25" cy="345.42" r="4.25"/><circle cx="524.7" cy="345.51" r="4.25"/><circle cx="526.15" cy="345.67" r="4.25"/><circle cx="527.6" cy="346.32" r="4.25"/><circle cx="529.05" cy="346.97" r="4.25"/><circle cx="530.5" cy="347.45" r="4.25"/><circle cx="531.95" cy="347.59" r="4.25"/><circle cx="533.4" cy="347.74" r="4.25"/><circle cx="534.85" cy="347.88" r="4.25"/><circle cx="536.3" cy="347.9" r="4.25"/><circle cx="537.75" cy="347.9" r="4.25"/><circle cx="539.2" cy="347.9" r="4.25"/><circle cx="540.65" cy="347.9" r="4.25"/><circle cx="542.1" cy="347.9" r="4.25"/><circle cx="543.55" cy="347.9" r="4.25"/><circle cx="545" cy="347.9" r="4.25"/><circle cx="546.45" cy="347.91" r="4.25"/><circle cx="547.9" cy="347.93" r="4.25"/><circle cx="549.35" cy="347.94" r="4.25"/><circle cx="550.8" cy="347.96" r="4.25"/><circle cx="552.25" cy="347.97" r="4.25"/><circle cx="553.7" cy="347.99" r="4.25"/><circle cx="555.15" cy="348" r="4.25"/><circle cx="556.6" cy="348" r="4.25"/><circle cx="558.05" cy="348" r="4.25"/><circle cx="559.5" cy="348" r="4.25"/><circle cx="560.95" cy="348" r="4.25"/><circle cx="562.4" cy="348" r="4.25"/><circle cx="563.85" cy="348" r="4.25"/><circle cx="565.3" cy="348" r="4.25"/><circle cx="566.75" cy="348" r="4.25"/><circle cx="568.2" cy="348" r="4.25"/><circle cx="569.65" cy="347.69" r="4.25"/><circle cx="571.1" cy="347.31" r="4.25"/><circle cx="572.55" cy="346.92" r="4.25"/><circle cx="574" cy="346.78" r="4.25"/><circle cx="575.45" cy="346.75" r="4.25"/><circle cx="576.9" cy="346.71" r="4.25"/><circle cx="578.35" cy="346.68" r="4.25"/><circle cx="579.8" cy="346.65" r="4.25"/><circle cx="581.25" cy="346.62" r="4.25"/><circle cx="582.7" cy="346.49" r="4.25"/><circle cx="584.15" cy="346.25" r="4.25"/><circle cx="585.6" cy="346.01" r="4.25"/><circle cx="587.05" cy="345.77" r="4.25"/><circle cx="588.5" cy="344.84" r="4.25"/><circle cx="589.95" cy="343.6" r="4.25"/><circle cx="591.4" cy="342.21" r="4.25"/><circle cx="592.85" cy="340.44" r="4.25"/><circle cx="594.3" cy="338.67" r="4.25"/><circle cx="595.75" cy="336.88" r="4.25"/><circle cx="597.2" cy="334.97" r="4.25"/><circle cx="598.65" cy="333.07" r="4.25"/><circle cx="600.1" cy="331.17" r="4.25"/><circle cx="601.55" cy="329.31" r="4.25"/><circle cx="603" cy="327.44" r="4.25"/><circle cx="604.45" cy="325.57" r="4.25"/><circle cx="605.9" cy="323.17" r="4.25"/><circle cx="607.35" cy="320.75" r="4.25"/><circle cx="608.8" cy="318.34" r="4.25"/><circle cx="610.25" cy="314.76" r="4.25"/><circle cx="611.7" cy="311.15" r="4.25"/><circle cx="613.15" cy="308.62" r="4.25"/><circle cx="614.88" cy="307.6" r="4.25"/><circle cx="616.61" cy="307.1" r="4.25"/><circle cx="618.34" cy="306.66" r="4.25"/><circle cx="620.07" cy="306.47" r="4.25"/><circle cx="621.8" cy="306.28" r="4.25"/><circle cx="623.53" cy="306.11" r="4.25"/><circle cx="625.26" cy="305.95" r="4.25"/><circle cx="626.99" cy="305.8" r="4.25"/><circle cx="628.72" cy="305.57" r="4.25"/><circle cx="630.45" cy="305.34" r="4.25"/><circle cx="632.18" cy="304.6" r="4.25"/><circle cx="633.91" cy="303.08" r="4.25"/><circle cx="635.64" cy="302.51" r="4.25"/><circle cx="637.37" cy="302.28" r="4.25"/><circle cx="639.1" cy="302.12" r="4.25"/><circle cx="640.83" cy="302.02" r="4.25"/><circle cx="642.56" cy="302.14" r="4.25"/><circle cx="644.29" cy="302.25" r="4.25"/><circle cx="646.02" cy="302.57" r="4.25"/><circle cx="647.75" cy="303.03" r="4.25"/><circle cx="649.48" cy="303.49" r="4.25"/><circle cx="651.21" cy="304.41" r="4.25"/><circle cx="652.94" cy="305.33" r="4.25"/><circle cx="654.67" cy="306.08" r="4.25"/><circle cx="656.4" cy="306.54" r="4.25"/><circle cx="658.13" cy="307" r="4.25"/><circle cx="659.86" cy="307.1" r="4.25"/><circle cx="662.02" cy="307.1" r="4.25"/></g>
<text x="481.8" y="366.4" class="tl" textLength="10.58" lengthAdjust="spacingAndGlyphs">0</text>
<text x="481.8" y="336.4" class="tl" textLength="10.58" lengthAdjust="spacingAndGlyphs">2</text>
<text x="481.8" y="306.4" class="tl" textLength="10.58" lengthAdjust="spacingAndGlyphs">4</text>
<line x1="491.8" y1="482.19" x2="698.4" y2="482.19" class="mg"/>
<line x1="491.8" y1="476.98" x2="698.4" y2="476.98" class="mg"/>
<line x1="491.8" y1="471.77" x2="698.4" y2="471.77" class="mg"/>
<line x1="491.8" y1="466.56" x2="698.4" y2="466.56" class="mg"/>
<line x1="491.8" y1="456.14" x2="698.4" y2="456.14" class="mg"/>
<line x1="491.8" y1="450.93" x2="698.4" y2="450.93" class="mg"/>
<line x1="491.8" y1="445.72" x2="698.4" y2="445.72" class="mg"/>
<line x1="491.8" y1="440.51" x2="698.4" y2="440.51" class="mg"/>
<line x1="491.8" y1="430.09" x2="698.4" y2="430.09" class="mg"/>
<line x1="490.5" y1="461.35" x2="698.4" y2="461.35" class="gr"/>
<line x1="490.5" y1="435.3" x2="698.4" y2="435.3" class="gr"/>
<line x1="532.4" y1="427.4" x2="532.4" y2="487.4" class="gr"/>
<line x1="573.5" y1="427.4" x2="573.5" y2="487.4" class="gr"/>
<line x1="615.5" y1="427.4" x2="615.5" y2="487.4" class="gr"/>
<line x1="657" y1="427.4" x2="657" y2="487.4" class="gr"/>
<rect x="490.5" y="427.4" width="207.9" height="60" class="bx"/>
<path d="M490.5 487.4h2.3M698.4 487.4h-2.3M490.5 461.35h2.3M698.4 461.35h-2.3M490.5 435.3h2.3M698.4 435.3h-2.3M532.4 487.4v-2.3M532.4 427.4v2.3M573.5 487.4v-2.3M573.5 427.4v2.3M615.5 487.4v-2.3M615.5 427.4v2.3M657 487.4v-2.3M657 427.4v2.3" class="tk"/>
<g class="mk"><circle cx="495.7" cy="487.2" r="4.25"/><circle cx="497.43" cy="487.2" r="4.25"/><circle cx="499.16" cy="487.2" r="4.25"/><circle cx="500.89" cy="487.2" r="4.25"/><circle cx="502.63" cy="469.25" r="4.25"/><circle cx="504.36" cy="453.56" r="4.25"/><circle cx="506.09" cy="439.56" r="4.25"/><circle cx="507.82" cy="436.86" r="4.25"/><circle cx="509.56" cy="434.36" r="4.25"/><circle cx="511.29" cy="430.42" r="4.25"/><circle cx="513.02" cy="446.3" r="4.25"/><circle cx="514.75" cy="461.31" r="4.25"/><circle cx="516.49" cy="475.89" r="4.25"/><circle cx="518.22" cy="477.6" r="4.25"/><circle cx="519.95" cy="479.42" r="4.25"/><circle cx="521.68" cy="481.58" r="4.25"/><circle cx="523.42" cy="483.88" r="4.25"/><circle cx="525.15" cy="486.29" r="4.25"/><circle cx="526.88" cy="487.2" r="4.25"/><circle cx="528.62" cy="487.2" r="4.25"/><circle cx="530.35" cy="487.2" r="4.25"/><circle cx="532.08" cy="487.2" r="4.25"/><circle cx="533.81" cy="487.2" r="4.25"/><circle cx="535.54" cy="487.2" r="4.25"/><circle cx="537.28" cy="487.2" r="4.25"/><circle cx="539.01" cy="487.2" r="4.25"/><circle cx="540.74" cy="487.2" r="4.25"/><circle cx="542.48" cy="487.2" r="4.25"/><circle cx="544.21" cy="474.04" r="4.25"/><circle cx="545.94" cy="460.81" r="4.25"/><circle cx="547.67" cy="448.2" r="4.25"/><circle cx="549.4" cy="441.98" r="4.25"/><circle cx="551.14" cy="434.14" r="4.25"/><circle cx="552.87" cy="426.63" r="4.25"/><circle cx="554.6" cy="437.62" r="4.25"/><circle cx="556.34" cy="449.49" r="4.25"/><circle cx="558.07" cy="458.92" r="4.25"/><circle cx="559.8" cy="463.5" r="4.25"/><circle cx="561.53" cy="468.09" r="4.25"/><circle cx="563.26" cy="472.68" r="4.25"/><circle cx="565" cy="477.49" r="4.25"/><circle cx="566.73" cy="481.11" r="4.25"/><circle cx="568.46" cy="487.2" r="4.25"/><circle cx="570.19" cy="487.2" r="4.25"/><circle cx="571.93" cy="487.2" r="4.25"/><circle cx="573.66" cy="487.2" r="4.25"/><circle cx="575.39" cy="487.2" r="4.25"/><circle cx="577.12" cy="487.2" r="4.25"/><circle cx="578.86" cy="487.2" r="4.25"/><circle cx="580.59" cy="487.2" r="4.25"/><circle cx="582.32" cy="487.2" r="4.25"/><circle cx="584.05" cy="487.2" r="4.25"/><circle cx="585.79" cy="478.66" r="4.25"/><circle cx="587.52" cy="470.38" r="4.25"/><circle cx="589.25" cy="462.22" r="4.25"/><circle cx="590.99" cy="454.57" r="4.25"/><circle cx="592.72" cy="448.77" r="4.25"/><circle cx="594.45" cy="447.24" r="4.25"/><circle cx="596.18" cy="453.83" r="4.25"/><circle cx="597.91" cy="460.66" r="4.25"/><circle cx="599.65" cy="467.3" r="4.25"/><circle cx="601.38" cy="473.43" r="4.25"/><circle cx="603.11" cy="478.26" r="4.25"/><circle cx="604.85" cy="481.89" r="4.25"/><circle cx="606.58" cy="484.96" r="4.25"/><circle cx="608.31" cy="487.09" r="4.25"/><circle cx="610.04" cy="487.2" r="4.25"/><circle cx="611.77" cy="487.2" r="4.25"/><circle cx="613.51" cy="487.2" r="4.25"/><circle cx="615.24" cy="487.2" r="4.25"/><circle cx="616.97" cy="487.2" r="4.25"/><circle cx="618.7" cy="487.2" r="4.25"/><circle cx="620.44" cy="487.2" r="4.25"/><circle cx="622.17" cy="487.2" r="4.25"/><circle cx="623.9" cy="487.2" r="4.25"/><circle cx="625.63" cy="487.2" r="4.25"/><circle cx="627.37" cy="487.2" r="4.25"/><circle cx="629.1" cy="487.02" r="4.25"/><circle cx="630.83" cy="483.9" r="4.25"/><circle cx="632.57" cy="481.88" r="4.25"/><circle cx="634.3" cy="479.98" r="4.25"/><circle cx="636.03" cy="478.08" r="4.25"/><circle cx="637.76" cy="478.83" r="4.25"/><circle cx="639.5" cy="479.7" r="4.25"/><circle cx="641.23" cy="480.56" r="4.25"/><circle cx="642.96" cy="481.62" r="4.25"/><circle cx="644.69" cy="482.75" r="4.25"/><circle cx="646.42" cy="484.15" r="4.25"/><circle cx="648.16" cy="486.37" r="4.25"/><circle cx="649.89" cy="487.2" r="4.25"/><circle cx="651.62" cy="487.2" r="4.25"/><circle cx="653.36" cy="487.2" r="4.25"/><circle cx="655.09" cy="487.2" r="4.25"/><circle cx="656.82" cy="487.2" r="4.25"/><circle cx="658.55" cy="487.2" r="4.25"/><circle cx="660.28" cy="487.2" r="4.25"/><circle cx="662.02" cy="487.2" r="4.25"/><circle cx="517.4" cy="476.84" r="4.25"/><circle cx="519.1" cy="478.41" r="4.25"/><circle cx="520.8" cy="480.48" r="4.25"/><circle cx="522.6" cy="482.74" r="4.25"/><circle cx="524.3" cy="485.11" r="4.25"/><circle cx="500.2" cy="485" r="4.25"/></g>
<text x="481.8" y="494.3" class="tl" textLength="10.58" lengthAdjust="spacingAndGlyphs">0</text>
<text x="481.8" y="468.25" class="tl" textLength="31.74" lengthAdjust="spacingAndGlyphs">100</text>
<text x="481.8" y="442.2" class="tl" textLength="31.74" lengthAdjust="spacingAndGlyphs">200</text>
<text transform="translate(84.2 124.8) rotate(-90)" style="font-size:21.6px" textLength="100.2" lengthAdjust="spacingAndGlyphs">PRESSURE</text>
<text transform="translate(94.8 383.1) rotate(-90)" style="font-size:21.6px" textLength="105.4" lengthAdjust="spacingAndGlyphs">MIXDEPTH</text>
<text transform="translate(438.3 107.8) rotate(-90)" style="font-size:21.6px" textLength="65.6" lengthAdjust="spacingAndGlyphs">THETA</text>
<text transform="translate(444.9 250.1) rotate(-90)" style="font-size:21.6px" textLength="95.5" lengthAdjust="spacingAndGlyphs">RAINFALL</text>
<text transform="translate(460.1 383.3) rotate(-90)" style="font-size:21.6px" textLength="109.1" lengthAdjust="spacingAndGlyphs">H2OMIXRA</text>
<text transform="translate(85.8 247.1) rotate(-90)" style="font-size:21.6px" textLength="34.5" lengthAdjust="spacingAndGlyphs">AIR</text>
<text transform="translate(95.9 210.88) rotate(-90)" style="font-size:16.8px" textLength="8.56" lengthAdjust="spacingAndGlyphs">T</text>
<text transform="translate(85.8 200.3) rotate(-90)" style="font-size:21.6px" textLength="42.1" lengthAdjust="spacingAndGlyphs">EMP</text>
<text transform="translate(85.8 502.7) rotate(-90)" style="font-size:21.6px" textLength="50.4" lengthAdjust="spacingAndGlyphs">TERR</text>
<text transform="translate(95.9 450.08) rotate(-90)" style="font-size:16.8px" textLength="13.26" lengthAdjust="spacingAndGlyphs">M</text>
<text transform="translate(85.8 433.8) rotate(-90)" style="font-size:21.6px" textLength="21.2" lengthAdjust="spacingAndGlyphs">SL</text>
<text transform="translate(399 503.6) rotate(-90)" style="font-size:21.6px" textLength="40.7" lengthAdjust="spacingAndGlyphs">SUN</text>
<text transform="translate(407.9 457.78) rotate(-90)" style="font-size:16.8px" textLength="7.06" lengthAdjust="spacingAndGlyphs">F</text>
<text transform="translate(399 448.7) rotate(-90)" style="font-size:21.6px" textLength="37.6" lengthAdjust="spacingAndGlyphs">LUX</text>
<text x="251.5" y="31.8" class="ti" textLength="180" lengthAdjust="spacingAndGlyphs">Figure 2 medium</text>
<text x="251.05" y="575.8" class="xl" textLength="50.7" lengthAdjust="spacingAndGlyphs">Time</text>
<text x="594.4" y="575.8" class="xl" textLength="50.7" lengthAdjust="spacingAndGlyphs">Time</text>
<text transform="translate(160.9 509.4) rotate(-45)" class="xt" textLength="51.4" lengthAdjust="spacingAndGlyphs">01/15</text>
<text transform="translate(201.8 509.4) rotate(-45)" class="xt" textLength="51.4" lengthAdjust="spacingAndGlyphs">01/16</text>
<text transform="translate(243.8 509.4) rotate(-45)" class="xt" textLength="51.4" lengthAdjust="spacingAndGlyphs">01/17</text>
<text transform="translate(285.8 509.4) rotate(-45)" class="xt" textLength="51.4" lengthAdjust="spacingAndGlyphs">01/18</text>
<text transform="translate(326.9 509.4) rotate(-45)" class="xt" textLength="51.4" lengthAdjust="spacingAndGlyphs">01/19</text>
<text transform="translate(368.8 509.4) rotate(-45)" class="xt" textLength="51.4" lengthAdjust="spacingAndGlyphs">01/20</text>
<text transform="translate(503.9 509.4) rotate(-45)" class="xt" textLength="51.4" lengthAdjust="spacingAndGlyphs">01/15</text>
<text transform="translate(545.8 509.4) rotate(-45)" class="xt" textLength="51.4" lengthAdjust="spacingAndGlyphs">01/16</text>
<text transform="translate(586.9 509.4) rotate(-45)" class="xt" textLength="51.4" lengthAdjust="spacingAndGlyphs">01/17</text>
<text transform="translate(628.9 509.4) rotate(-45)" class="xt" textLength="51.4" lengthAdjust="spacingAndGlyphs">01/18</text>
<text transform="translate(670.4 509.4) rotate(-45)" class="xt" textLength="51.4" lengthAdjust="spacingAndGlyphs">01/19</text>
<text transform="translate(711.8 509.4) rotate(-45)" class="xt" textLength="51.4" lengthAdjust="spacingAndGlyphs">01/20</text>
</svg></body></html>
